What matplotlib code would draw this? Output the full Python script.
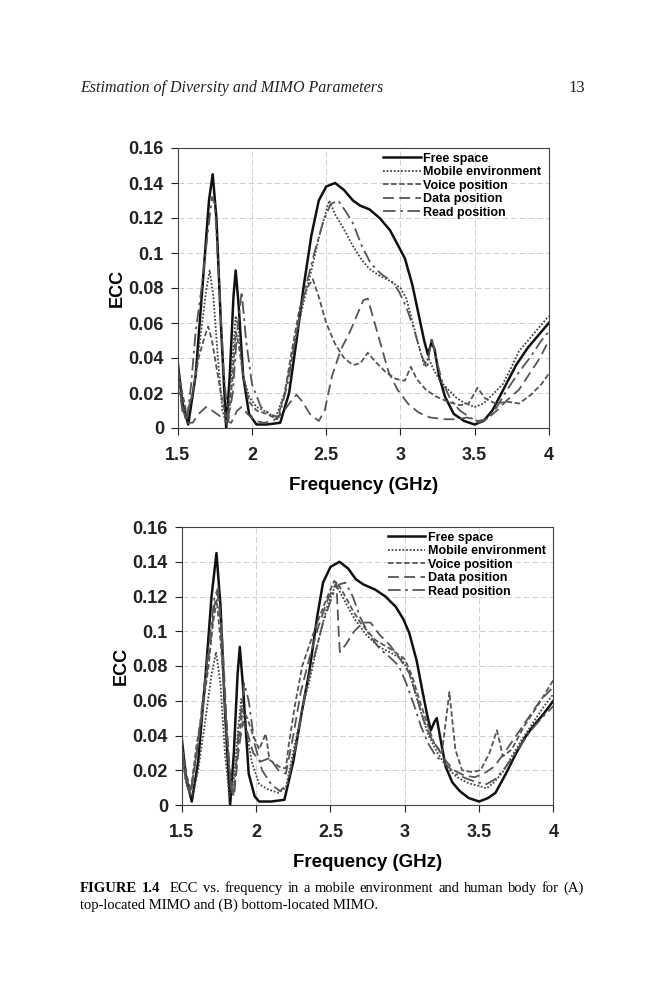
import matplotlib.pyplot as plt
from matplotlib.ticker import FixedLocator

# ---- (A) top-located MIMO ----
fa_free = [1.50,1.53,1.57,1.62,1.67,1.71,1.735,1.76,1.79,1.826,1.85,1.875,1.89,1.91,1.94,1.98,2.03,2.10,2.19,2.25,2.30,2.35,2.40,2.45,2.50,2.56,2.62,2.68,2.73,2.79,2.86,2.93,2.98,3.03,3.08,3.12,3.16,3.185,3.21,3.23,3.26,3.30,3.36,3.43,3.50,3.56,3.62,3.70,3.78,3.86,3.93,4.00]
ea_free = [0.037,0.015,0.002,0.030,0.085,0.130,0.145,0.120,0.060,0.000,0.030,0.075,0.090,0.070,0.030,0.008,0.002,0.002,0.003,0.020,0.050,0.082,0.110,0.130,0.138,0.140,0.136,0.130,0.127,0.125,0.120,0.113,0.105,0.097,0.082,0.066,0.050,0.042,0.049,0.045,0.030,0.018,0.008,0.004,0.002,0.004,0.010,0.023,0.036,0.046,0.053,0.060]

fa_mob = [1.50,1.53,1.56,1.60,1.65,1.69,1.715,1.74,1.77,1.80,1.83,1.86,1.89,1.91,1.94,1.98,2.03,2.10,2.16,2.22,2.28,2.34,2.40,2.46,2.52,2.56,2.61,2.68,2.74,2.79,2.86,2.93,3.00,3.04,3.09,3.13,3.16,3.19,3.22,3.26,3.31,3.38,3.44,3.50,3.56,3.62,3.69,3.75,3.80,3.88,3.95,4.00]
ea_mob = [0.035,0.015,0.005,0.020,0.050,0.078,0.090,0.075,0.040,0.010,0.002,0.030,0.064,0.055,0.030,0.018,0.012,0.009,0.006,0.020,0.045,0.069,0.090,0.112,0.130,0.122,0.115,0.104,0.096,0.091,0.087,0.084,0.080,0.074,0.058,0.045,0.036,0.040,0.034,0.028,0.023,0.017,0.014,0.012,0.014,0.019,0.025,0.035,0.044,0.052,0.059,0.064]

fa_voice = [1.50,1.53,1.56,1.60,1.64,1.68,1.705,1.73,1.76,1.79,1.82,1.84,1.87,1.89,1.91,1.94,1.98,2.03,2.10,2.17,2.22,2.27,2.32,2.37,2.41,2.45,2.50,2.56,2.62,2.68,2.73,2.78,2.83,2.90,2.97,3.03,3.07,3.11,3.17,3.24,3.32,3.40,3.46,3.52,3.57,3.64,3.72,3.80,3.88,3.95,4.00]
ea_voice = [0.036,0.020,0.008,0.020,0.040,0.052,0.058,0.050,0.035,0.020,0.008,0.004,0.030,0.055,0.048,0.030,0.015,0.010,0.008,0.005,0.020,0.045,0.068,0.080,0.085,0.075,0.060,0.048,0.040,0.036,0.037,0.043,0.038,0.032,0.028,0.027,0.035,0.028,0.022,0.018,0.015,0.013,0.014,0.023,0.017,0.014,0.015,0.014,0.019,0.025,0.031]

fa_data = [1.50,1.53,1.56,1.60,1.64,1.69,1.73,1.78,1.82,1.86,1.90,1.93,1.97,2.02,2.08,2.14,2.20,2.26,2.30,2.34,2.39,2.45,2.49,2.54,2.60,2.66,2.71,2.75,2.78,2.81,2.86,2.92,2.98,3.05,3.12,3.20,3.30,3.38,3.45,3.52,3.58,3.65,3.72,3.80,3.87,3.94,4.00]
ea_data = [0.030,0.012,0.003,0.003,0.008,0.012,0.010,0.007,0.004,0.003,0.010,0.012,0.008,0.004,0.003,0.004,0.008,0.015,0.019,0.015,0.008,0.004,0.010,0.030,0.045,0.055,0.065,0.073,0.074,0.065,0.050,0.032,0.022,0.014,0.009,0.006,0.005,0.005,0.006,0.004,0.005,0.010,0.016,0.022,0.031,0.040,0.050]

fa_read = [1.50,1.53,1.56,1.59,1.62,1.66,1.70,1.73,1.75,1.78,1.81,1.84,1.87,1.90,1.93,1.96,2.00,2.06,2.12,2.18,2.24,2.30,2.36,2.42,2.48,2.53,2.58,2.63,2.68,2.74,2.80,2.87,2.94,2.99,3.04,3.09,3.14,3.18,3.21,3.24,3.28,3.34,3.40,3.47,3.53,3.58,3.65,3.72,3.80,3.88,3.95,4.00]
ea_read = [0.030,0.010,0.004,0.025,0.055,0.080,0.110,0.132,0.128,0.080,0.030,0.005,0.020,0.055,0.078,0.050,0.025,0.012,0.008,0.006,0.025,0.055,0.080,0.100,0.118,0.128,0.130,0.124,0.117,0.104,0.094,0.088,0.084,0.078,0.069,0.057,0.042,0.034,0.052,0.040,0.027,0.016,0.010,0.006,0.003,0.005,0.012,0.022,0.032,0.041,0.050,0.055]

# ---- (B) bottom-located MIMO ----
fb_free = [1.50,1.53,1.567,1.61,1.66,1.70,1.733,1.76,1.79,1.825,1.85,1.875,1.89,1.91,1.95,1.99,2.02,2.10,2.19,2.25,2.31,2.36,2.41,2.45,2.50,2.56,2.62,2.67,2.72,2.80,2.87,2.94,2.99,3.03,3.08,3.12,3.15,3.175,3.20,3.215,3.24,3.275,3.32,3.37,3.43,3.50,3.56,3.61,3.68,3.75,3.81,3.86,3.93,4.00]
eb_free = [0.038,0.015,0.002,0.025,0.075,0.120,0.145,0.115,0.055,0.000,0.030,0.075,0.091,0.070,0.018,0.005,0.002,0.002,0.003,0.025,0.055,0.078,0.108,0.128,0.137,0.140,0.136,0.130,0.127,0.124,0.120,0.114,0.107,0.099,0.083,0.065,0.052,0.043,0.048,0.050,0.038,0.022,0.013,0.008,0.004,0.002,0.004,0.007,0.018,0.030,0.039,0.045,0.052,0.060]

fb_mob = [1.50,1.53,1.57,1.61,1.66,1.70,1.73,1.76,1.79,1.82,1.85,1.88,1.90,1.93,1.97,2.02,2.08,2.15,2.20,2.26,2.31,2.36,2.42,2.48,2.535,2.58,2.63,2.67,2.74,2.80,2.85,2.92,2.98,3.03,3.07,3.11,3.16,3.22,3.28,3.35,3.43,3.50,3.55,3.60,3.66,3.72,3.79,3.86,3.93,4.00]
eb_mob = [0.030,0.012,0.005,0.020,0.050,0.075,0.088,0.070,0.030,0.005,0.015,0.045,0.061,0.045,0.025,0.012,0.009,0.007,0.010,0.035,0.055,0.072,0.095,0.115,0.127,0.120,0.112,0.106,0.098,0.093,0.090,0.087,0.084,0.076,0.065,0.053,0.040,0.030,0.022,0.016,0.0125,0.011,0.0095,0.013,0.019,0.028,0.038,0.047,0.056,0.064]

fb_voice = [1.50,1.53,1.56,1.60,1.64,1.68,1.71,1.735,1.76,1.79,1.82,1.85,1.88,1.91,1.94,1.98,2.02,2.065,2.09,2.155,2.20,2.22,2.26,2.31,2.37,2.42,2.48,2.525,2.56,2.60,2.65,2.70,2.80,2.90,3.00,3.05,3.10,3.15,3.20,3.25,3.30,3.34,3.385,3.45,3.51,3.57,3.62,3.66,3.72,3.80,3.90,4.00]
eb_voice = [0.035,0.018,0.008,0.035,0.055,0.080,0.105,0.118,0.095,0.060,0.020,0.008,0.035,0.055,0.050,0.040,0.032,0.041,0.026,0.022,0.021,0.035,0.057,0.080,0.095,0.107,0.120,0.129,0.126,0.120,0.112,0.105,0.095,0.090,0.084,0.074,0.060,0.047,0.035,0.030,0.065,0.032,0.020,0.019,0.020,0.030,0.043,0.028,0.032,0.045,0.058,0.072]

fb_data = [1.50,1.53,1.56,1.60,1.64,1.68,1.72,1.74,1.77,1.80,1.83,1.85,1.88,1.91,1.94,1.98,2.03,2.09,2.15,2.20,2.25,2.30,2.36,2.42,2.48,2.54,2.555,2.563,2.60,2.66,2.72,2.77,2.83,2.90,2.96,3.03,3.08,3.13,3.18,3.22,3.27,3.33,3.40,3.47,3.53,3.60,3.67,3.75,3.83,3.91,4.00]
eb_data = [0.030,0.012,0.006,0.030,0.055,0.085,0.115,0.122,0.100,0.050,0.010,0.005,0.030,0.048,0.042,0.030,0.025,0.027,0.020,0.018,0.040,0.065,0.085,0.103,0.118,0.128,0.100,0.088,0.092,0.100,0.105,0.105,0.098,0.092,0.085,0.076,0.062,0.048,0.038,0.033,0.026,0.020,0.017,0.016,0.018,0.022,0.030,0.040,0.050,0.060,0.068]

fb_read = [1.50,1.53,1.56,1.60,1.64,1.68,1.72,1.745,1.77,1.80,1.83,1.85,1.88,1.92,1.95,1.99,2.04,2.10,2.16,2.21,2.27,2.33,2.39,2.45,2.52,2.56,2.60,2.65,2.70,2.76,2.83,2.90,2.96,3.01,3.06,3.11,3.16,3.21,3.27,3.34,3.42,3.49,3.55,3.61,3.68,3.76,3.84,3.92,4.00]
eb_read = [0.033,0.015,0.008,0.030,0.060,0.090,0.120,0.125,0.095,0.040,0.010,0.005,0.040,0.070,0.060,0.035,0.020,0.012,0.008,0.012,0.035,0.065,0.085,0.105,0.122,0.127,0.128,0.120,0.108,0.098,0.090,0.085,0.080,0.070,0.058,0.045,0.035,0.028,0.024,0.018,0.015,0.013,0.012,0.015,0.022,0.032,0.042,0.050,0.057]

labels = ["Free space", "Mobile environment", "Voice position", "Data position", "Read position"]
xticks = [1.5, 2, 2.5, 3, 3.5, 4]
xtick_labels = ["1.5", "2", "2.5", "3", "3.5", "4"]
yticks = [0, 0.02, 0.04, 0.06, 0.08, 0.1, 0.12, 0.14, 0.16]
ytick_labels = ["0", "0.02", "0.04", "0.06", "0.08", "0.1", "0.12", "0.14", "0.16"]

styles = [
    dict(color="#111111", lw=1.8, ls="-"),
    dict(color="#444444", lw=1.3, ls=(0, (1, 1))),
    dict(color="#555555", lw=1.3, ls=(0, (3, 1.5))),
    dict(color="#555555", lw=1.3, ls=(0, (6, 3))),
    dict(color="#555555", lw=1.3, ls=(0, (7, 2.5, 1.5, 2.5))),
]

fig = plt.figure(figsize=(6.66, 10), dpi=100)
fig.patch.set_facecolor("white")
sans = "Liberation Sans"

def draw(ax, series):
    for (f, e), lab, st in zip(series, labels, styles):
        ax.plot(f, e, label=lab, **st)
    ax.set_xlim(1.5, 4)
    ax.set_ylim(0, 0.16)
    ax.xaxis.set_major_locator(FixedLocator(xticks))
    ax.set_xticklabels(xtick_labels, fontsize=13, fontweight="bold", family=sans)
    ax.yaxis.set_major_locator(FixedLocator(yticks))
    ax.set_yticklabels(ytick_labels, fontsize=13, fontweight="bold", family=sans)
    ax.tick_params(direction="out", length=5, width=0.8, colors="#222222")
    ax.tick_params(axis="x", pad=9)
    ax.tick_params(axis="y", pad=5)
    ax.grid(True, color="#d0d0d0", ls=(0, (6, 3)), lw=0.7)
    for s in ax.spines.values():
        s.set_color("#444444")
        s.set_linewidth(0.8)
    ax.set_xlabel("Frequency (GHz)", fontsize=13.5, fontweight="bold", family=sans, labelpad=9)
    ax.set_ylabel("ECC", fontsize=13, fontweight="bold", family=sans, labelpad=2)
    ax.legend(loc="upper right", bbox_to_anchor=(1.0, 1.01), frameon=False, handlelength=3.0,
              handletextpad=0.2, labelspacing=0.12, borderaxespad=0.2,
              prop=dict(family=sans, weight="bold", size=9))

ax1 = fig.add_axes([0.267, 0.572, 0.557, 0.280])
draw(ax1, [(fa_free, ea_free), (fa_mob, ea_mob), (fa_voice, ea_voice), (fa_data, ea_data), (fa_read, ea_read)])

ax2 = fig.add_axes([0.273, 0.195, 0.558, 0.278])
draw(ax2, [(fb_free, eb_free), (fb_mob, eb_mob), (fb_voice, eb_voice), (fb_data, eb_data), (fb_read, eb_read)])

# page header
fig.text(0.12, 0.908, "Estimation of Diversity and MIMO Parameters", fontsize=11.5,
         style="italic", family="Liberation Serif", color="#222222", va="baseline")
fig.text(0.878, 0.908, "13", fontsize=12, family="Liberation Serif", color="#222222",
         va="baseline", ha="right")

# caption, first line justified between the margins
renderer = fig.canvas.get_renderer()
left, right = 0.12, 0.877
words = [("FIGURE", "bold"), ("1.4", "bold"), ("ECC", "normal"), ("vs.", "normal"),
         ("frequency", "normal"), ("in", "normal"), ("a", "normal"), ("mobile", "normal"),
         ("environment", "normal"), ("and", "normal"), ("human", "normal"), ("body", "normal"),
         ("for", "normal"), ("(A)", "normal")]
items = []
total = 0
for w, weight in words:
    t = fig.text(0, 0.108, w, fontsize=10.5, fontweight=weight, family="Liberation Serif",
                 va="baseline")
    wid = t.get_window_extent(renderer).width / fig.bbox.width
    items.append((t, wid))
    total += wid
gap = (right - left - total) / len(items)  # one extra gap after the figure number
x = left
for i, (t, wid) in enumerate(items):
    t.set_x(x)
    x += wid + gap
    if i == 1:
        x += gap
fig.text(left, 0.091, "top-located MIMO and (B) bottom-located MIMO.", fontsize=10.5,
         family="Liberation Serif", va="baseline")

fig.savefig("out.png", dpi=100)
